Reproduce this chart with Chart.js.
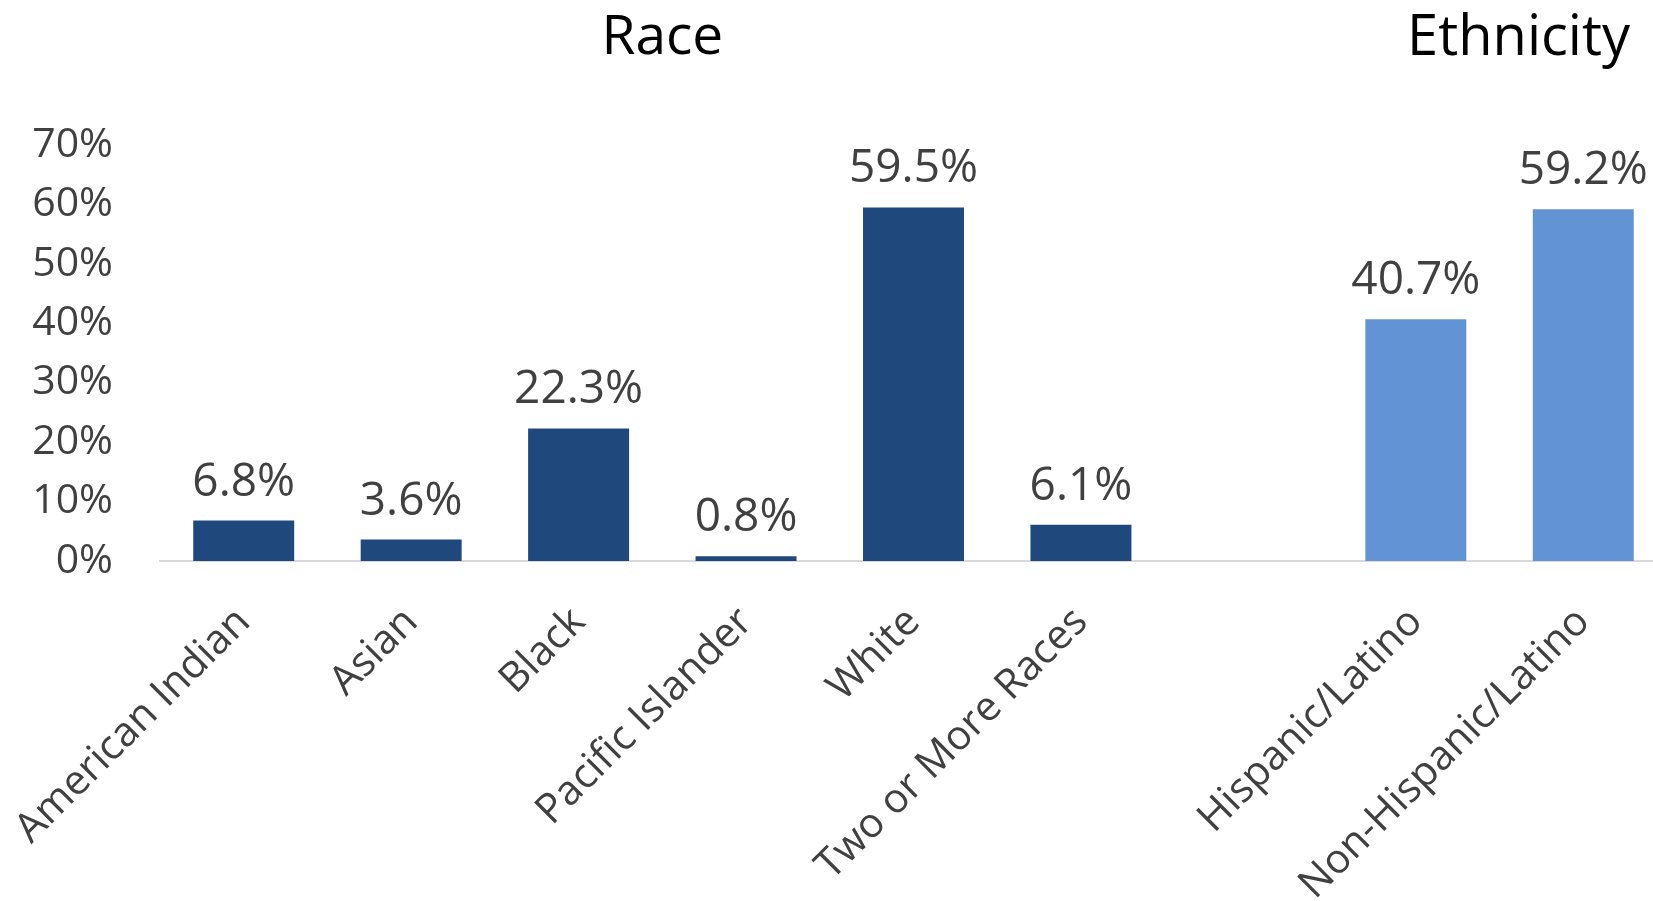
<!DOCTYPE html>
<html lang="en">

<head>
    <meta charset="UTF-8">
    <title>Race and Ethnicity</title>
    <script src="https://cdn.jsdelivr.net/npm/chart.js"></script>
    <style>
        html, body {
            margin: 0;
            padding: 0;
            background: #ffffff;
            overflow: hidden;
        }

        .chart-area {
            position: absolute;
            left: 0;
            top: 0;
            width: 1670px;
            height: 901px;
        }
    </style>
</head>

<body>
    <div class="chart-area">
        <canvas id="grafico" width="1670" height="901"></canvas>
    </div>

    <script>
        // categorias (a posição vazia separa Race de Ethnicity)
        const categorias = ['American Indian', 'Asian', 'Black', 'Pacific Islander', 'White', 'Two or More Races', '', 'Hispanic/Latino', 'Non-Hispanic/Latino'];
        const valoresRace = [6.8, 3.6, 22.3, 0.8, 59.5, 6.1, null, null, null];
        const valoresEthnicity = [null, null, null, null, null, null, null, 40.7, 59.2];
        const ticksY = [0, 10, 20, 30, 40, 50, 60, 70];
        const titulos = ['Race', 'Ethnicity'];

        const fonte = '"Open Sans", "Noto Sans", sans-serif';
        const corTexto = '#404040';

        // rótulos de valor em cima das barras
        const rotulosBarras = {
            id: 'rotulosBarras',
            afterDatasetsDraw(chart) {
                const ctx = chart.ctx;
                ctx.save();
                ctx.font = '46px ' + fonte;
                ctx.fillStyle = corTexto;
                ctx.textAlign = 'center';
                ctx.textBaseline = 'alphabetic';
                chart.data.datasets.forEach(function (ds, i) {
                    const meta = chart.getDatasetMeta(i);
                    meta.data.forEach(function (bar, j) {
                        const v = ds.data[j];
                        if (v == null) return;
                        ctx.fillText(v.toFixed(1) + '%', bar.x, bar.y - 25);
                    });
                });
                ctx.restore();
            }
        };

        // títulos dos dois grupos
        const titulosGrupos = {
            id: 'titulosGrupos',
            afterDraw(chart) {
                const ctx = chart.ctx;
                const x = chart.scales.x;
                ctx.save();
                ctx.fillStyle = '#000000';
                ctx.textAlign = 'center';
                ctx.textBaseline = 'alphabetic';
                const centroRace = (x.getPixelForValue(0) + x.getPixelForValue(5)) / 2;
                const centroEth = (x.getPixelForValue(7) + x.getPixelForValue(8)) / 2 + 19;
                ctx.font = '55px ' + fonte;
                ctx.fillText(titulos[0], centroRace, 54);
                ctx.font = '56px ' + fonte;
                ctx.fillText(titulos[1], centroEth, 55);
                ctx.restore();
            }
        };

        const ctx = document.getElementById('grafico').getContext('2d');

        new Chart(ctx, {
            type: 'bar',
            data: {
                labels: categorias,
                datasets: [{
                    label: 'Race',
                    data: valoresRace,
                    backgroundColor: '#1F497D',
                    grouped: false,
                    categoryPercentage: 0.603,
                    barPercentage: 1
                }, {
                    label: 'Ethnicity',
                    data: valoresEthnicity,
                    backgroundColor: '#6294D5',
                    grouped: false,
                    categoryPercentage: 0.603,
                    barPercentage: 1
                }]
            },
            options: {
                responsive: false,
                animation: false,
                layout: {
                    padding: { top: 145, right: 3, left: 0, bottom: 0 }
                },
                plugins: {
                    legend: { display: false },
                    tooltip: { enabled: false },
                    title: { display: false }
                },
                scales: {
                    x: {
                        grid: { display: false, drawTicks: false },
                        border: { display: true, color: '#D9D9D9', width: 2 },
                        ticks: {
                            autoSkip: false,
                            minRotation: 45,
                            maxRotation: 45,
                            padding: 37,
                            color: corTexto,
                            font: { family: fonte, size: 41 }
                        },
                        afterFit: function (s) {
                            s.height = 340;
                            s.paddingLeft = 0;
                            s.paddingRight = 0;
                        }
                    },
                    y: {
                        min: 0,
                        max: 70,
                        afterBuildTicks: function (s) {
                            s.ticks = ticksY.map(v => ({ value: v }));
                        },
                        grid: { display: false, drawTicks: false },
                        border: { display: false },
                        ticks: {
                            padding: 47,
                            color: corTexto,
                            font: { family: fonte, size: 41 },
                            callback: v => v + '%'
                        },
                        afterFit: function (s) {
                            s.width = 160;
                            s.paddingTop = 0;
                            s.paddingBottom = 0;
                        }
                    }
                }
            },
            plugins: [rotulosBarras, titulosGrupos]
        });
    </script>
</body>

</html>
